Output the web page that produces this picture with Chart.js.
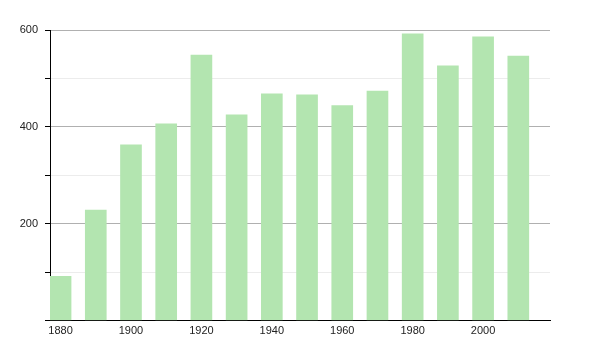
<!DOCTYPE html>
<html>
<head>
<meta charset="utf-8">
<script src="https://cdn.jsdelivr.net/npm/chart.js@4"></script>
<style>
  html, body { margin: 0; padding: 0; background: #fff; }
  #wrap { width: 600px; height: 350px; }
</style>
</head>
<body>
<div id="wrap"><canvas id="myChart"></canvas></div>
<script>
// population by census year
const years = [1880, 1890, 1900, 1910, 1920, 1930, 1940, 1950, 1960, 1970, 1980, 1990, 2000, 2010];
const population = [91, 228, 363, 406, 548, 425, 468, 466, 444, 474, 592, 526, 586, 546];
const xTickLabels = [1880, 1900, 1920, 1940, 1960, 1980, 2000];
const yTickLabels = [200, 400, 600];

window.addEventListener("load", function () {
  const ctx = document.getElementById("myChart").getContext("2d");

  new Chart(ctx, {
    type: "bar",
    data: {
      datasets: [
        {
          data: years.map((y, i) => ({ x: y, y: population[i] })),
          backgroundColor: "#b3e5b0",
          borderWidth: 0,
          barThickness: 21,
        },
      ],
    },
    options: {
      responsive: true,
      maintainAspectRatio: false,
      animation: false,
      layout: {
        padding: { top: 30, right: 50, left: 0, bottom: 0 },
      },
      scales: {
        x: {
          type: "linear",
          offset: false,
          min: 1877,
          max: 2019,
          afterBuildTicks: function (scale) {
            scale.ticks = xTickLabels.map((v) => ({ value: v }));
          },
          afterFit: function (scale) {
            scale.height = 29.5;
          },
          grid: { display: false, drawTicks: false, offset: false },
          border: { display: true, color: "#000", width: 1 },
          ticks: {
            padding: 4,
            color: "#222",
            maxRotation: 0,
            autoSkip: false,
            font: { family: "Liberation Sans", size: 11 },
            callback: function (value) {
              return String(value);
            },
          },
        },
        y: {
          min: 0,
          max: 600,
          afterFit: function (scale) {
            scale.width = 50;
          },
          grid: {
            color: function (c) {
              return c.tick && c.tick.value % 200 === 0 ? "#b0b0b0" : "#ececec";
            },
            tickColor: "#000",
            tickLength: 5,
          },
          border: { display: true, color: "#000", width: 1 },
          ticks: {
            stepSize: 100,
            padding: 7,
            color: "#222",
            font: { family: "Liberation Sans", size: 11 },
            callback: function (value) {
              return yTickLabels.includes(value) ? String(value) : "";
            },
          },
        },
      },
      plugins: {
        legend: { display: false },
        tooltip: { enabled: false },
      },
    },
  });
});
</script>
</body>
</html>
